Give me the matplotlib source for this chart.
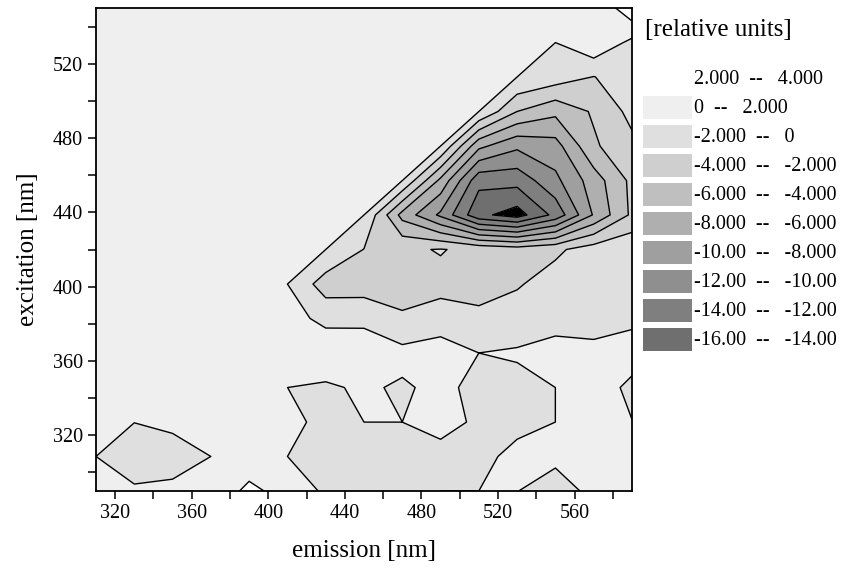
import matplotlib
matplotlib.use("Agg")
import numpy as np
import matplotlib.pyplot as plt
from matplotlib.patches import Rectangle

plt.rcParams['font.family'] = ['Liberation Serif', 'DejaVu Serif']
plt.rcParams['contour.negative_linestyle'] = 'solid'

# measurement grid (nm)
emission = [310, 330, 350, 370, 390, 410, 430, 450, 470, 490, 510, 530, 550, 570, 590]
excitation = [290.0, 308.6, 327.1, 345.7, 364.3, 382.9, 401.4, 420.0,
              438.6, 457.1, 475.7, 494.3, 512.9, 531.4, 550.0]

# relative intensity, one row per excitation wavelength
intensity = [
    [0.5, 0.25, 0.52, 0.8, 2.4, 1.37, -0.34, -0.6, -0.5, 0, 0, 0.02, -0.5, 0.28, 0.3],
    [0, -1.0, -1.0, 0, 0.97, 0, -0.8, -0.8, -0.8, -0.5, -0.5, 0.5, 0.25, 0.3, 0.3],
    [0, 0.02, 0.49, 0, 0, 0.8, -0.8, 0, 0, 0.5, -0.24, -0.5, 0, 0.3, 0.04],
    [0, 0, 0, 0, 0, 0, -0.26, 0.27, -0.25, 0.49, -0.56, -0.5, 0, 1.11, -0.5],
    [0, 0, 0, 0, 0, 0.3, 1.29, 1.5, 0.6, 1.2, 0, 0.19, 0.77, 0.32, 0.97],
    [0, 0, 0, 0, 0, 0.72, -0.5, -0.6, -1.88, -1.36, -1.65, -1.02, -0.8, -0.5, -0.46],
    [0, 0, 0, 0, 0, 0, -3.0, -2.9, -2.4, -2.46, -2.6, -2.2, -1.1, -0.8, -0.5],
    [0, 0, 0, 0, 0, 0, 0, -2.05, -2.3, -1.9, -2.5, -3.0, -2.4, -1.0, -0.43],
    [0, 0, 0, 0, 0, 0, 0, 0, -6.7, -10.4, -15.5, -16.9, -13.4, -7.8, -3.6],
    [0, 0, 0, 0, 0, 0, 0, 0, 0, -6.5, -13.4, -13.3, -10.5, -7.0, -3.5],
    [0, 0, 0, 0, 0, 0, 0, 0, 0, 0, -7.5, -9.6, -8.8, -4.3, -2.5],
    [0, 0, 0, 0, 0, 0, 0, 0, 0, 0, 0, -4.0, -5.5, -3.75, -1.4],
    [0, 0, 0, 0, 0, 0, 0, 0, 0, 0, 0, 0, -0.95, -2.05, -1.0],
    [0, 0, 0, 0, 0, 0, 0, 0, 0, 0, 0, 0, 0, 1.7, -0.5],
    [0, 0, 0, 0, 0, 0, 0, 0, 0, 0, 0, 0, 0, 0, 3.5],
]

levels = [-16, -14, -12, -10, -8, -6, -4, -2, 0, 2, 4]
band_colors = ['#6f6f6f', '#7f7f7f', '#8f8f8f', '#9f9f9f', '#afafaf',
               '#bfbfbf', '#cfcfcf', '#dfdfdf', '#efefef', '#ffffff']

Z = np.array(intensity, dtype=float)
# zeros belong to the "0 -- 2" band, so nudge them just above the boundary
Zp = Z + 1e-3

W, H = 845, 570
fig = plt.figure(figsize=(W / 100, H / 100), dpi=100)
ax = fig.add_axes([96 / W, 1 - 491 / H, (632 - 96) / W, (491 - 8) / H])

ax.contourf(emission, excitation, Zp, levels=levels,
            colors=['black'] + band_colors, extend='min')
ax.contour(emission, excitation, Zp, levels=levels[:-1],
           colors='black', linewidths=1.0, linestyles='solid')

ax.set_xlim(310, 590)
ax.set_ylim(290, 550)
ax.set_xticks(range(320, 561, 40))
ax.set_xticks(range(340, 581, 40), minor=True)
ax.set_yticks(range(320, 521, 40))
ax.set_yticks(range(300, 541, 40), minor=True)
ax.tick_params(which='both', direction='out', length=5.5, width=1.1,
               labelsize=14.5, pad=4)
for sp in ax.spines.values():
    sp.set_linewidth(1.3)

ax.set_xlabel('emission [nm]', fontsize=18, labelpad=12)
ax.set_ylabel('excitation [nm]', fontsize=18, labelpad=10)


def fmt(v):
    return '0' if v == 0 else f'{v:#.4g}'


# legend: highest band on top
fig.text(645 / W, 1 - 30 / H, '[relative units]', fontsize=18,
         ha='left', va='center')
for k in range(len(band_colors)):
    idx = len(band_colors) - 1 - k
    yc = 80 + 28.9 * k
    fig.add_artist(Rectangle((643 / W, 1 - (yc + 10.5) / H), 49 / W, 23 / H,
                             transform=fig.transFigure,
                             facecolor=band_colors[idx], edgecolor='none'))
    fig.text(694 / W, 1 - yc / H,
             f'{fmt(levels[idx])}  --   {fmt(levels[idx + 1])}',
             fontsize=14.5, ha='left', va='center')

fig.savefig('out.png', dpi=100, facecolor='white')
